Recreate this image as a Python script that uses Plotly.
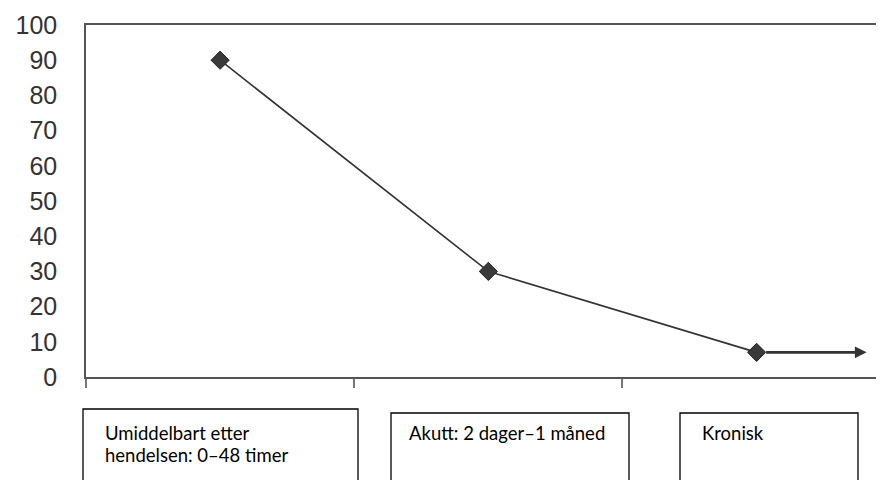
import plotly.graph_objects as go

# ---- data ----
categories = ["Umiddelbart", "Akutt", "Kronisk"]
values = [90, 30, 7]
y_ticks = [0, 10, 20, 30, 40, 50, 60, 70, 80, 90, 100]
box_lines = [
    ["Umiddelbart etter", "hendelsen: 0\u201348 timer"],
    ["Akutt: 2 dager\u20131 m\u00e5ned"],
    ["Kronisk"],
]

OFF = 8  # page body margin
W, H = 884 - OFF, 480 - OFF
L, R, T, B = 86 - OFF, 4, 25 - OFF, 103
PW, PH = W - L - R, H - T - B


def px(x):
    return (x - OFF - L) / PW


def py(y):
    return (H - B - (y - OFF)) / PH


fig = go.Figure()
fig.add_trace(go.Scatter(
    x=categories, y=values, mode="lines+markers",
    line=dict(color="#333333", width=1.6),
    marker=dict(symbol="diamond", size=14, color="#3a3a3a",
                line=dict(color="#222222", width=1)),
    showlegend=False, hoverinfo="skip",
))

# continuation arrow from last point
arrow_extent = 0.41
fig.add_annotation(
    x=len(categories) - 1 + arrow_extent, y=values[-1],
    ax=len(categories) - 1, ay=values[-1],
    xref="x", yref="y", axref="x", ayref="y",
    showarrow=True, arrowhead=2, arrowsize=0.9, arrowwidth=2.6,
    arrowcolor="#333333", startstandoff=8, standoff=0, text="",
)

# boxes below (page pixel layout positions); open at bottom (cropped in source)
boxes = [
    (83, 358, 409, 103),
    (391, 629, 413, 407),
    (680, 858, 413, 700),
]
for (x0, x1, top, tx), lines in zip(boxes, box_lines):
    a, b, yt, yb = px(x0), px(x1), py(top), py(490)
    fig.add_shape(type="path", xref="paper", yref="paper",
                  path=f"M {a},{yb} L {a},{yt} L {b},{yt} L {b},{yb}",
                  line=dict(color="#000000", width=1.3))
    for i, t in enumerate(lines):
        fig.add_annotation(x=px(tx), y=py(433 + 22 * i), xref="paper", yref="paper",
                           text=t, showarrow=False, xanchor="left", yanchor="middle",
                           font=dict(family="Lato, Carlito, sans-serif", size=18.5, color="#000000"))

# faint right border
fig.add_shape(type="line", xref="paper", yref="paper", x0=1, x1=1, y0=0, y1=1,
              line=dict(color="#dddddd", width=1))

fig.update_layout(
    width=W, height=H,
    margin=dict(l=L, r=R, t=T, b=B, pad=0),
    paper_bgcolor="white", plot_bgcolor="white",
    xaxis=dict(type="category", range=[-0.5, 2.46], showgrid=False, zeroline=False,
               showline=True, linecolor="#555555", linewidth=1.5, mirror=True,
               tickson="boundaries", ticks="outside", ticklen=9, tickcolor="#777777",
               tickwidth=1.5, showticklabels=False),
    yaxis=dict(range=[0, 100], tickvals=y_ticks, showgrid=False, zeroline=False,
               showline=True, linecolor="#555555", linewidth=1.5, ticks="",
               ticklabelstandoff=22,
               tickfont=dict(family="Liberation Sans, Arial, sans-serif", size=25, color="#333333")),
)

fig.write_html("out.html")
